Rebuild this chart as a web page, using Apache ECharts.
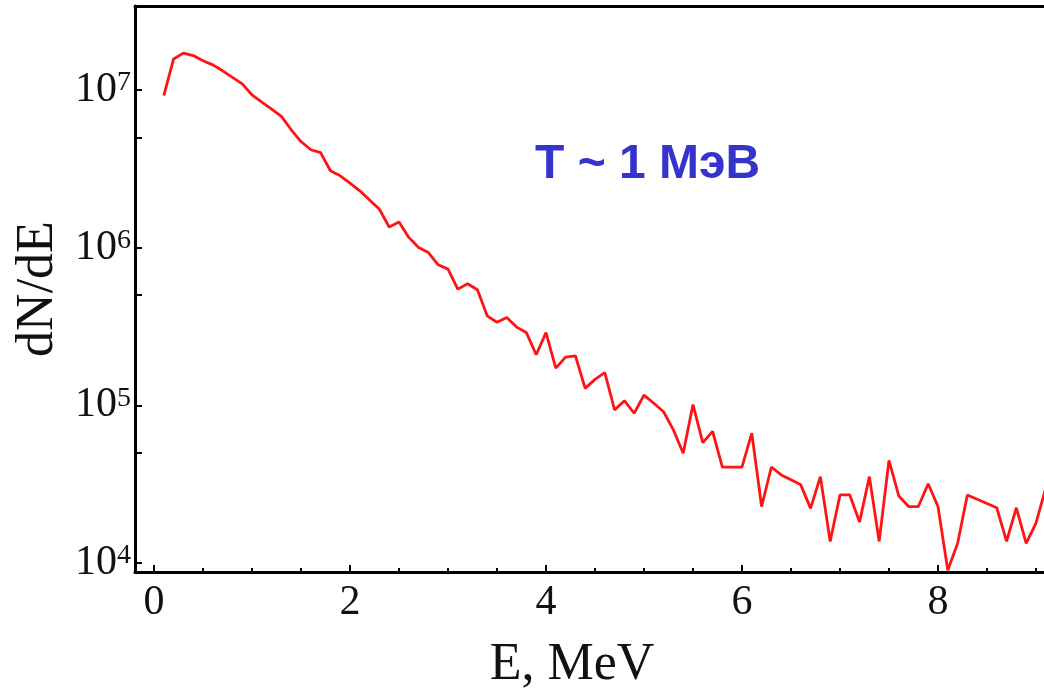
<!DOCTYPE html>
<html>
<head>
<meta charset="utf-8">
<script src="https://cdn.jsdelivr.net/npm/echarts@6/dist/echarts.min.js"></script>
<style>
  html, body { margin: 0; padding: 0; background: #fff; }
  #chart { width: 1044px; height: 688px; }
</style>
</head>
<body>
<div id="chart"></div>
<script>
  // energy, MeV (8.4 and 8.5 have no visible point)
  var energy = [0.1, 0.2, 0.3, 0.4, 0.5, 0.6, 0.7, 0.8, 0.9, 1.0,
    1.1, 1.2, 1.3, 1.4, 1.5, 1.6, 1.7, 1.8, 1.9, 2.0,
    2.1, 2.2, 2.3, 2.4, 2.5, 2.6, 2.7, 2.8, 2.9, 3.0,
    3.1, 3.2, 3.3, 3.4, 3.5, 3.6, 3.7, 3.8, 3.9, 4.0,
    4.1, 4.2, 4.3, 4.4, 4.5, 4.6, 4.7, 4.8, 4.9, 5.0,
    5.1, 5.2, 5.3, 5.4, 5.5, 5.6, 5.7, 5.8, 5.9, 6.0,
    6.1, 6.2, 6.3, 6.4, 6.5, 6.6, 6.7, 6.8, 6.9, 7.0,
    7.1, 7.2, 7.3, 7.4, 7.5, 7.6, 7.7, 7.8, 7.9, 8.0,
    8.1, 8.2, 8.3, 8.6, 8.7, 8.8, 8.9, 9.0, 9.1];
  // dN/dE
  var dNdE = [9.2e6, 1.57e7, 1.71e7, 1.65e7, 1.53e7, 1.44e7, 1.32e7, 1.2e7, 1.09e7, 9.3e6,
    8.35e6, 7.55e6, 6.78e6, 5.58e6, 4.7e6, 4.17e6, 4.0e6, 3.07e6, 2.85e6, 2.56e6,
    2.29e6, 2.0e6, 1.75e6, 1.35e6, 1.45e6, 1.16e6, 1.0e6, 9.3e5, 7.77e5, 7.3e5,
    5.45e5, 5.9e5, 5.4e5, 3.69e5, 3.36e5, 3.6e5, 3.13e5, 2.89e5, 2.09e5, 2.89e5,
    1.72e5, 2.02e5, 2.06e5, 1.28e5, 1.46e5, 1.61e5, 9.35e4, 1.07e5, 8.9e4, 1.16e5,
    1.03e5, 9.1e4, 6.98e4, 4.97e4, 1.01e5, 5.8e4, 6.83e4, 4.06e4, 4.06e4, 4.06e4,
    6.66e4, 2.28e4, 4.06e4, 3.62e4, 3.37e4, 3.13e4, 2.22e4, 3.53e4, 1.37e4, 2.7e4,
    2.7e4, 1.82e4, 3.53e4, 1.37e4, 4.47e4, 2.66e4, 2.28e4, 2.28e4, 3.18e4, 2.28e4,
    9.0e3, 1.33e4, 2.7e4, 2.24e4, 1.37e4, 2.24e4, 1.33e4, 1.79e4, 3.0e4];

  var xMajorTicks = [0, 2, 4, 6, 8];
  var xMinorTicks = [0.5, 1, 1.5, 2.5, 3, 3.5, 4.5, 5, 5.5, 6.5, 7, 7.5, 8.5, 9];
  var yTicks = [1e4, 5e4, 1e5, 5e5, 1e6, 5e6, 1e7];
  var yLabels = [1e4, 1e5, 1e6, 1e7];

  var xMin = -0.194, xMax = 9.184;
  var yMin = 8770, yMax = 3.4e7;

  var chart = echarts.init(document.getElementById('chart'));
  var points = [];
  for (var i = 0; i < energy.length; i++) points.push([energy[i], dNdE[i]]);

  var serif = '"Liberation Serif", "Times New Roman", serif';

  var option = {
    animation: false,
    backgroundColor: '#fff',
    title: [{
      text: 'T ~ 1 MэВ',
      left: 530,
      top: 136,
      textStyle: {
        fontFamily: 'Liberation Sans, Arial, sans-serif',
        fontWeight: 'bold',
        fontSize: 48,
        color: '#3434cc'
      }
    }, {
      text: 'E, MeV',
      left: 567,
      textAlign: 'center',
      top: 634,
      textStyle: {
        fontFamily: serif,
        fontWeight: 'normal',
        fontSize: 52,
        color: '#111'
      }
    }],
    grid: { left: 135, top: 6, right: -10, bottom: 116, outerBoundsMode: 'none', containLabel: false },
    xAxis: [{
      type: 'value',
      min: xMin, max: xMax,
      position: 'bottom',
      splitLine: { show: false },
      axisLine: { onZero: false, lineStyle: { color: '#000', width: 3 } },
      axisTick: { inside: true, length: 4, customValues: xMinorTicks, lineStyle: { color: '#000', width: 2 } },
      axisLabel: {
        customValues: xMajorTicks,
        margin: 10,
        fontFamily: serif,
        fontSize: 42,
        color: '#111'
      }
    }, {
      type: 'value',
      min: xMin, max: xMax,
      position: 'bottom',
      splitLine: { show: false },
      axisLine: { show: false, onZero: false },
      axisTick: { inside: true, length: 7, customValues: xMajorTicks, lineStyle: { color: '#000', width: 2 } },
      axisLabel: { show: false }
    }, {
      type: 'value',
      min: xMin, max: xMax,
      position: 'top',
      splitLine: { show: false },
      axisLine: { onZero: false, lineStyle: { color: '#000', width: 3 } },
      axisTick: { show: false },
      axisLabel: { show: false }
    }],
    yAxis: {
      type: 'log',
      min: yMin, max: yMax,
      name: 'dN/dE',
      nameLocation: 'middle',
      nameGap: 70,
      nameRotate: 90,
      nameTextStyle: { fontFamily: serif, fontSize: 52, color: '#111' },
      splitLine: { show: false },
      axisLine: { onZero: false, lineStyle: { color: '#000', width: 3 } },
      axisTick: { inside: true, length: 7, customValues: yTicks, lineStyle: { color: '#000', width: 2 } },
      axisLabel: {
        customValues: yLabels,
        margin: 4,
        formatter: function (v) {
          return '{b|10}{s|' + Math.round(Math.log10(v)) + '}';
        },
        rich: {
          b: { fontFamily: serif, fontSize: 42, color: '#111', lineHeight: 42, verticalAlign: 'bottom' },
          s: { fontFamily: serif, fontSize: 28, color: '#111', lineHeight: 42, verticalAlign: 'top' }
        }
      }
    },
    series: [{
      type: 'line',
      data: points,
      showSymbol: false,
      clip: true,
      lineStyle: { color: '#ff1414', width: 2.8 },
      itemStyle: { color: '#ff1414' }
    }]
  };
  chart.setOption(option);
</script>
</body>
</html>
